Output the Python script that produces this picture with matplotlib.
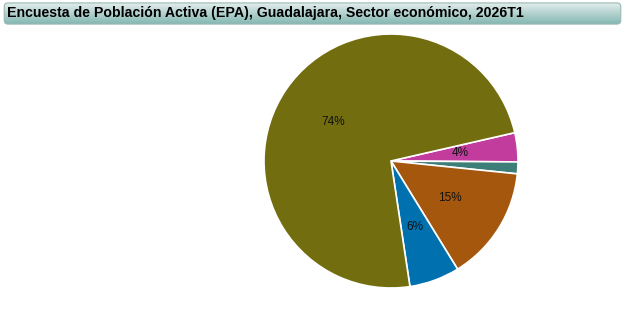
import matplotlib
matplotlib.use("Agg")
import matplotlib.pyplot as plt
import numpy as np
from matplotlib.patches import FancyBboxPatch
from matplotlib.colors import LinearSegmentedColormap

title = "Encuesta de Población Activa (EPA), Guadalajara, Sector económico, 2026T1"
sectors = ["Agricultura", "Otros", "Industria", "Construcción", "Servicios"]
values = [3.7, 1.5, 14.6, 6.4, 73.8]
colors = ["#C13C9D", "#3E7E78", "#A4570D", "#0071AE", "#726D0F"]

W, H = 625, 322
fig = plt.figure(figsize=(W / 100, H / 100), dpi=100)
fig.patch.set_facecolor("white")

# Title bar with gradient
tax = fig.add_axes([3 / W, 1 - 25 / H, 619 / W, 23 / H])
tax.set_xlim(0, 1)
tax.set_ylim(0, 1)
tax.axis("off")
grad = np.linspace(0, 1, 100).reshape(-1, 1)
cmap = LinearSegmentedColormap.from_list("g", ["#7FB5B0", "#E6EFEE"])
im = tax.imshow(grad, extent=[0, 1, 0, 1], aspect="auto", cmap=cmap, origin="lower")
clip = FancyBboxPatch((0.002, 0.04), 0.996, 0.92, boxstyle="round,pad=0,rounding_size=0.006",
                      transform=tax.transAxes, facecolor="none", edgecolor="#9AB8B5", lw=0.8,
                      mutation_aspect=27)
tax.add_patch(clip)
im.set_clip_path(clip)
tax.text(0.006, 0.5, title, fontsize=10.2, fontweight="bold", family="Liberation Sans",
         va="center", ha="left", color="black")

# Pie
cx, cy, r = 391, 161, 127
ax = fig.add_axes([(cx - r) / W, 1 - (cy + r) / H, 2 * r / W, 2 * r / H])
wedges, texts, autotexts = ax.pie(
    values, colors=colors, startangle=12.9, counterclock=False,
    autopct=lambda p: f"{p:.0f}%" if p >= 3 else "", pctdistance=0.55,
    wedgeprops=dict(edgecolor="white", linewidth=1.2),
    textprops=dict(fontsize=8.5, family="Liberation Sans", color="#111111"))
ax.set_aspect("equal")
ax.set_xlim(-1, 1)
ax.set_ylim(-1, 1)

fig.savefig("out.png", dpi=100, facecolor="white")
